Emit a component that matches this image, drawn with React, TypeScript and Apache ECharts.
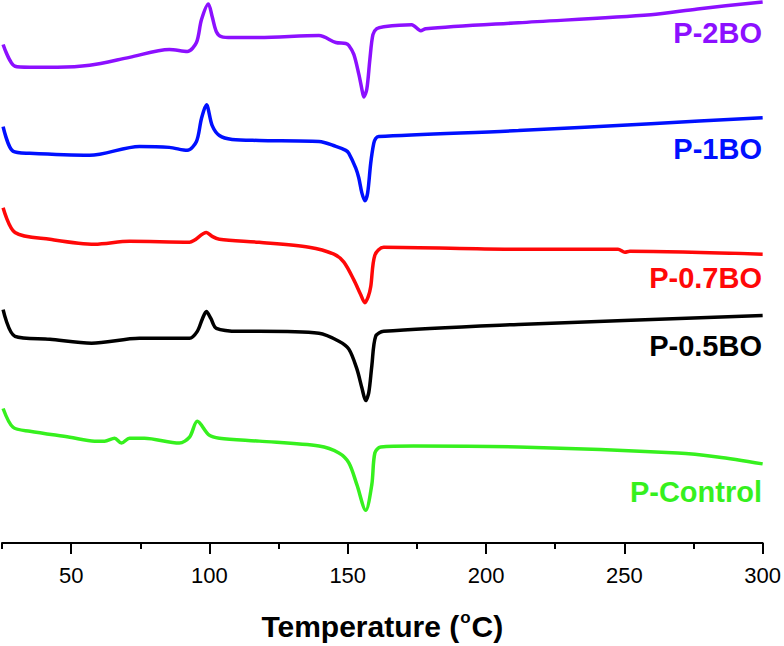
import React, { useEffect, useRef } from "react";
import * as echarts from "echarts";

// DSC heating scans, [temperature °C, heat flow (a.u., curves stacked with offsets)]
const p2BO: [number, number][] = [
  [25.4, 50.4], [29.7, 48.2], [35.0, 48.1], [45.0, 48.1], [56.7, 48.3], [71.1, 49.1],
  [85.5, 49.9], [92.0, 49.7], [95.3, 50.6], [97.1, 52.9], [99.6, 54.5], [101.0, 53.2],
  [102.5, 51.7], [104.3, 51.2], [108.2, 51.1], [118.0, 51.1], [139.6, 51.3], [145.7, 50.6],
  [149.3, 50.5], [150.4, 50.3], [152.2, 49.4], [154.0, 47.4], [155.1, 45.9], [155.8, 45.1],
  [156.9, 45.9], [158.0, 48.9], [159.1, 51.4], [160.5, 52.0], [163.0, 52.2], [173.1, 52.4],
  [176.4, 51.8], [178.2, 52.0], [211.7, 52.6], [259.6, 53.4], [276.5, 54.0], [300.0, 54.7],
];

const p1BO: [number, number][] = [
  [25.4, 42.1], [29.0, 39.6], [35.0, 39.4], [56.7, 39.2], [74.7, 40.1], [85.5, 40.0],
  [92.0, 39.7], [95.3, 40.6], [97.1, 42.9], [98.9, 44.3], [101.0, 42.2], [103.6, 41.2],
  [108.2, 40.8], [118.0, 40.7], [139.6, 40.6], [145.7, 40.1], [149.3, 39.7], [150.4, 39.4],
  [152.9, 37.9], [154.0, 36.9], [155.1, 35.4], [156.2, 34.6], [157.2, 35.4], [158.3, 38.4],
  [159.4, 40.4], [160.1, 40.9], [161.2, 41.1], [211.7, 41.7], [259.6, 42.4], [300.0, 43.0],
];

const p07BO: [number, number][] = [
  [25.4, 33.9], [29.7, 31.4], [42.3, 30.7], [58.5, 30.2], [71.1, 30.5], [92.8, 30.4],
  [94.5, 30.6], [98.9, 31.4], [101.0, 31.0], [103.6, 30.7], [118.0, 30.4], [136.0, 29.9],
  [145.0, 29.2], [148.6, 28.4], [152.2, 26.6], [154.7, 25.1], [156.2, 24.3], [157.4, 24.9],
  [158.3, 25.9], [159.8, 29.1], [163.0, 29.9], [211.7, 29.7], [247.7, 29.7], [250.2, 29.4],
  [252.0, 29.5], [300.0, 29.2],
];

const p05BO: [number, number][] = [
  [25.4, 23.6], [29.7, 20.9], [42.3, 20.6], [57.4, 20.2], [74.7, 20.7], [92.8, 20.7],
  [95.6, 21.4], [97.5, 22.7], [98.9, 23.4], [100.5, 22.7], [102.5, 21.7], [110.8, 21.4],
  [118.0, 21.4], [139.6, 21.2], [146.8, 20.4], [150.4, 19.6], [153.3, 17.6], [155.1, 15.7],
  [156.5, 14.4], [157.6, 15.2], [158.7, 17.9], [160.1, 20.9], [163.0, 21.4], [211.7, 22.1],
  [300.0, 23.0],
];

const pControl: [number, number][] = [
  [25.4, 13.6], [29.0, 11.7], [35.1, 11.3], [49.5, 10.7], [58.5, 10.3], [62.1, 10.3],
  [65.7, 10.6], [68.2, 10.1], [71.1, 10.6], [76.5, 10.6], [89.1, 10.1], [92.8, 10.7],
  [95.6, 12.3], [99.9, 10.9], [103.6, 10.6], [118.0, 10.3], [139.6, 9.8], [146.8, 9.1],
  [150.4, 8.1], [153.3, 5.9], [156.5, 3.3], [158.7, 5.9], [159.8, 9.1], [161.9, 9.7],
  [173.8, 9.8], [211.7, 9.7], [269.3, 9.1], [283.7, 8.7], [300.0, 8.0],
];

const seriesNames = ["P-2BO", "P-1BO", "P-0.7BO", "P-0.5BO", "P-Control"];
const seriesData = [p2BO, p1BO, p07BO, p05BO, pControl];
const seriesColors = ["#8C10FF", "#0010FF", "#FF0808", "#000000", "#36F01E"];
const labelY = [35, 151, 280, 348, 494];

const majorTicks = [50, 100, 150, 200, 250, 300];
const minorTicks = [25, 75, 125, 175, 225, 275];

const FONT = "'Liberation Sans', Arial, Helvetica, sans-serif";

export default function App() {
  const ref = useRef<HTMLDivElement>(null);

  useEffect(() => {
    if (!ref.current) return;
    const chart = echarts.init(ref.current, null, { renderer: "svg" });
    chart.setOption({
      animation: false,
      backgroundColor: "#ffffff",
      grid: { left: 2, right: 19, top: 0, bottom: 97, containLabel: false },
      xAxis: [
        {
          type: "value",
          min: 25,
          max: 300,
          position: "bottom",
          axisLine: { show: true, lineStyle: { color: "#000", width: 2 } },
          axisTick: {
            show: true,
            customValues: majorTicks,
            length: 11,
            inside: false,
            lineStyle: { color: "#000", width: 2 },
          },
          axisLabel: {
            customValues: majorTicks,
            fontSize: 22,
            color: "#000",
            fontFamily: FONT,
            margin: 21,
          },
          splitLine: { show: false },
          name: "{t|Temperature (}{s|o}{t|C)}",
          nameLocation: "middle",
          nameGap: 66,
          nameTextStyle: {
            rich: {
              t: { fontSize: 30, fontWeight: "bold", fontFamily: FONT, color: "#000", lineHeight: 34 },
              s: {
                fontSize: 17,
                fontWeight: "bold",
                fontFamily: FONT,
                color: "#000",
                verticalAlign: "top",
                lineHeight: 34,
                padding: [0, 1, 14, 1],
              },
            },
          },
        },
        {
          type: "value",
          min: 25,
          max: 300,
          position: "bottom",
          axisLine: { show: false },
          axisTick: {
            show: true,
            customValues: minorTicks,
            length: 6,
            lineStyle: { color: "#000", width: 2 },
          },
          axisLabel: { show: false },
          splitLine: { show: false },
        },
      ],
      yAxis: {
        type: "value",
        min: 0,
        max: 54.9,
        show: false,
        splitLine: { show: false },
      },
      series: seriesData.map((d, i) => ({
        type: "line",
        name: seriesNames[i],
        data: d,
        xAxisIndex: 0,
        showSymbol: false,
        symbol: "none",
        smooth: 0.3,
        clip: false,
        lineStyle: { color: seriesColors[i], width: 3.5 },
      })),
      graphic: seriesNames.map((name, i) => ({
        type: "text",
        right: 22,
        top: labelY[i] - 17,
        style: {
          text: name,
          fill: seriesColors[i],
          font: `bold 29px ${FONT}`,
        },
      })),
    });
    return () => chart.dispose();
  }, []);

  return (
    <div
      ref={ref}
      style={{ position: "fixed", left: 0, top: 0, width: 784, height: 646 }}
    />
  );
}
